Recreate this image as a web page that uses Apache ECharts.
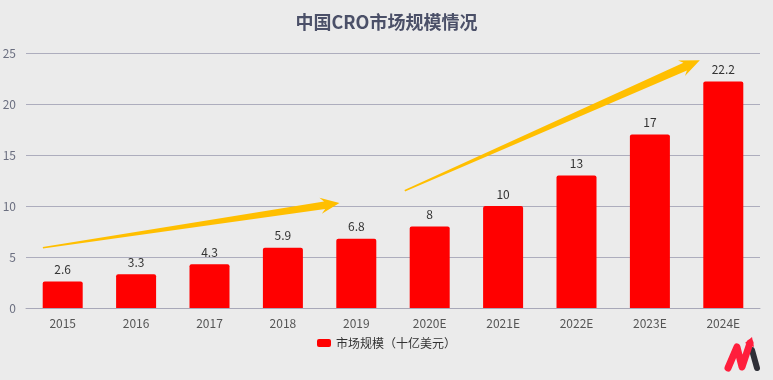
<!DOCTYPE html>
<html><head><meta charset="utf-8">
<script src="https://cdn.jsdelivr.net/npm/echarts@6/dist/echarts.min.js"></script>
<style>html,body{margin:0;padding:0;background:#ebebeb;}#c{width:773px;height:380px;}</style>
</head><body><div id="c"></div>
<script>
const categories = ['2015','2016','2017','2018','2019','2020E','2021E','2022E','2023E','2024E'];
const marketSize = [2.6, 3.3, 4.3, 5.9, 6.8, 8, 10, 13, 17, 22.2];
const yTicks = [0, 5, 10, 15, 20, 25];
const seriesName = '市场规模（十亿美元）';
const font = '"Noto Sans CJK SC", "Noto Sans", sans-serif';

const chart = echarts.init(document.getElementById('c'));
chart.setOption({
  backgroundColor: '#ebebeb',
  textStyle: { fontFamily: font },
  title: { text: '中国CRO市场规模情况', left: 'center', top: 8,
    textStyle: { fontSize: 18, fontWeight: 'bold', color: '#4b5068', fontFamily: font } },
  grid: { left: 26, right: 13, top: 53, bottom: 72, containLabel: false, outerBoundsMode: 'none' },
  legend: { bottom: 26, left: 'center', itemWidth: 14, itemHeight: 8, itemGap: 6,
    textStyle: { fontSize: 12, color: '#333', fontFamily: font }, data: [seriesName] },
  xAxis: { type: 'category', data: categories,
    axisLine: { lineStyle: { color: '#a8a8b8' } }, axisTick: { show: false },
    axisLabel: { color: '#555', fontSize: 12, margin: 9 } },
  yAxis: { type: 'value', min: yTicks[0], max: yTicks[yTicks.length-1], interval: 5,
    axisLine: { show: false }, axisTick: { show: false },
    axisLabel: { color: '#6b6f80', fontSize: 12, margin: 10 },
    splitLine: { lineStyle: { color: '#adadbd' } } },
  series: [{ name: seriesName, type: 'bar', data: marketSize, barWidth: 40,
    itemStyle: { color: '#ff0000', borderRadius: [2,2,0,0] },
    label: { show: true, position: 'top', color: '#333', fontSize: 12, distance: 6 } }]
});

// convert fractional category position + value to pixels (interpolating between category centres)
function toPx(idx, val) {
  const p0 = chart.convertToPixel({seriesIndex:0}, [0, val]);
  const p1 = chart.convertToPixel({seriesIndex:0}, [1, val]);
  return [p0[0] + (p1[0]-p0[0]) * idx, p0[1]];
}
function arrow(p0, p1, w0, w1, headW, headL) {
  const dx = p1[0]-p0[0], dy = p1[1]-p0[1];
  const len = Math.hypot(dx, dy);
  const ux = dx/len, uy = dy/len, nx = -uy, ny = ux;
  const bx = p1[0]-ux*headL, by = p1[1]-uy*headL;
  return [
    [p0[0]+nx*w0/2, p0[1]+ny*w0/2],
    [bx+nx*w1/2, by+ny*w1/2],
    [bx+nx*headW/2 - ux*4, by+ny*headW/2 - uy*4],
    [p1[0], p1[1]],
    [bx-nx*headW/2 - ux*4, by-ny*headW/2 - uy*4],
    [bx-nx*w1/2, by-ny*w1/2],
    [p0[0]-nx*w0/2, p0[1]-ny*w0/2]
  ];
}
const a1s = toPx(-0.27, 5.9);
const a1e = toPx(3.77, 10.3);
const a2s = toPx(4.66, 11.5);
const a2e = toPx(8.68, 24.3);
chart.setOption({ graphic: [
  { type: 'polygon', shape: { points: arrow(a1s, a1e, 1.5, 7.5, 16, 15) }, style: { fill: '#ffbf00' }, z: 10 },
  { type: 'polygon', shape: { points: arrow(a2s, a2e, 1.5, 8.5, 17, 16) }, style: { fill: '#ffbf00' }, z: 10 },
  { type: 'polyline', shape: { points: [[728,368],[737,347],[742,367],[750,343]] },
    style: { stroke: '#ff1e3c', lineWidth: 7, lineCap: 'round', lineJoin: 'round', fill: null }, z: 10 },
  { type: 'polygon', shape: { points: [[745,343],[752,337],[754,347]] }, style: { fill: '#ff1e3c' }, z: 10 },
  { type: 'polyline', shape: { points: [[752,350],[757,368]] },
    style: { stroke: '#2e3038', lineWidth: 6, lineCap: 'round', fill: null }, z: 9 }
]});
</script></body></html>
